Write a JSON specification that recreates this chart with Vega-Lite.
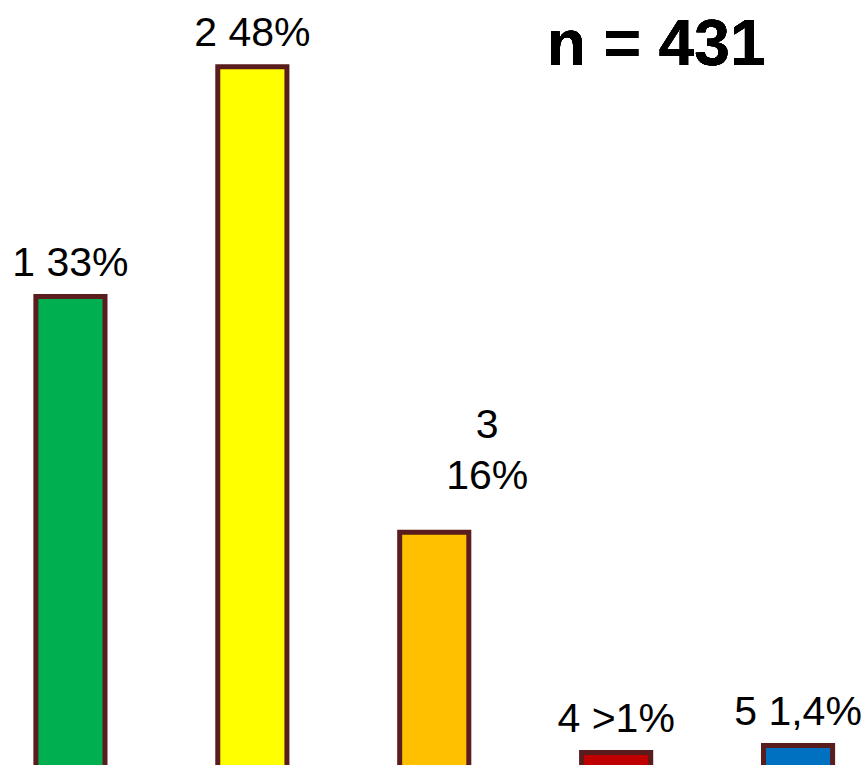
{
  "$schema": "https://vega.github.io/schema/vega-lite/v6.json",
  "width": 864,
  "height": 765,
  "padding": 0,
  "autosize": {"type": "fit", "contains": "padding"},
  "background": "white",
  "config": {"view": {"stroke": null}, "font": "Liberation Sans"},
  "data": {
    "values": [
      {"cat": "1", "value": 32.2, "label": "1 33%", "color": "#00B050"},
      {"cat": "2", "value": 48, "label": "2 48%", "color": "#FFFF00"},
      {"cat": "3", "value": 16, "label": "3\n16%", "color": "#FFC000"},
      {"cat": "4", "value": 0.86, "label": "4 >1%", "color": "#C00000"},
      {"cat": "5", "value": 1.34, "label": "5 1,4%", "color": "#0070C0"}
    ]
  },
  "encoding": {
    "x": {
      "field": "cat",
      "type": "nominal",
      "axis": null,
      "scale": {"range": [-20.5, 889], "paddingInner": 0.62, "paddingOuter": 0.31}
    },
    "y": {
      "field": "value",
      "type": "quantitative",
      "axis": null,
      "scale": {"domain": [0, 52.58], "nice": false, "zero": true}
    }
  },
  "layer": [
    {
      "mark": {"type": "bar", "stroke": "#5a1c1c", "strokeWidth": 5, "cornerRadius": 0, "clip": true},
      "encoding": {
        "y2": {"datum": -1},
        "color": {"field": "color", "type": "nominal", "scale": null}
      }
    },
    {
      "transform": [{"filter": "datum.cat !== '3'"}],
      "mark": {"type": "text", "fontSize": 41, "baseline": "alphabetic", "align": "center", "dy": -20.5, "color": "black"},
      "encoding": {"text": {"field": "label"}}
    },
    {
      "transform": [{"filter": "datum.cat === '3'"}],
      "mark": {"type": "text", "fontSize": 41, "baseline": "alphabetic", "align": "center", "dx": 53, "dy": -94.5, "lineBreak": "\n", "lineHeight": 51, "color": "black"},
      "encoding": {"text": {"field": "label"}}
    },
    {
      "mark": {"type": "text", "fontSize": 64, "fontWeight": "bold", "baseline": "alphabetic", "align": "center", "dx": 40, "color": "black"},
      "encoding": {
        "x": {"datum": "4"},
        "y": {"datum": 48.1},
        "text": {"value": "n = 431"}
      }
    }
  ]
}
